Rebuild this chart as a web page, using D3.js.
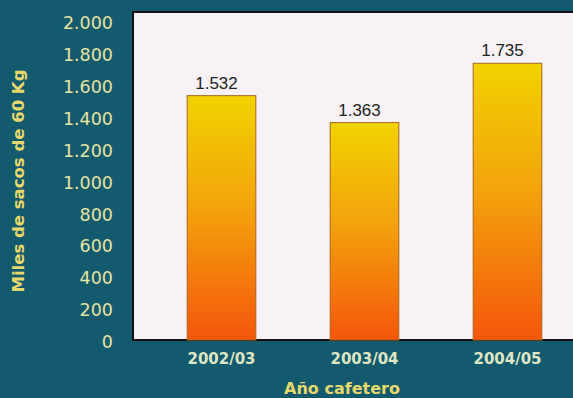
<!DOCTYPE html>
<html>
<head>
<meta charset="utf-8">
<script src="https://cdn.jsdelivr.net/npm/d3@7"></script>
<style>
  html, body { margin: 0; padding: 0; background: #135a6e; }
  svg { display: block; }
</style>
</head>
<body>
<svg id="chart"></svg>
<script>
var years = ["2002/03", "2003/04", "2004/05"];
var sacks = [1532, 1363, 1735];
var yTicks = [0, 200, 400, 600, 800, 1000, 1200, 1400, 1600, 1800, 2000];

var totalWidth = 573;
var totalHeight = 398;

var plot = { left: 133, top: 12, right: 580, bottom: 340 };

var es = d3.formatLocale({ decimal: ",", thousands: ".", grouping: [3], currency: ["", ""] });
var fmt = es.format(",d");

var svg = d3.select("#chart")
    .attr("width", totalWidth)
    .attr("height", totalHeight);

svg.append("rect")
    .attr("width", totalWidth)
    .attr("height", totalHeight)
    .attr("fill", "#135a6e");

var defs = svg.append("defs");
var grad = defs.append("linearGradient")
    .attr("id", "barGrad")
    .attr("x1", 0).attr("y1", 0).attr("x2", 0).attr("y2", 1);
grad.append("stop").attr("offset", "0%").attr("stop-color", "#f1d200");
grad.append("stop").attr("offset", "45%").attr("stop-color", "#f3a40c");
grad.append("stop").attr("offset", "100%").attr("stop-color", "#f5560c");

// plot area
svg.append("rect")
    .attr("x", plot.left)
    .attr("y", plot.top)
    .attr("width", plot.right - plot.left)
    .attr("height", plot.bottom - plot.top)
    .attr("fill", "#f8f2f6")
    .attr("stroke", "#111")
    .attr("stroke-width", 2);

var x = d3.scaleBand()
    .domain(years)
    .range([150, 579])
    .paddingInner(0.52)
    .paddingOuter(0.26);

var y = d3.scaleLinear()
    .domain([0, 2000])
    .range([plot.bottom, 21]);

svg.selectAll(".bar")
    .data(sacks)
    .enter()
    .append("rect")
    .attr("class", "bar")
    .attr("x", function (d, i) { return x(years[i]); })
    .attr("y", function (d) { return y(d); })
    .attr("width", x.bandwidth())
    .attr("height", function (d) { return plot.bottom - y(d); })
    .attr("fill", "url(#barGrad)")
    .attr("stroke", "#a4681c")
    .attr("stroke-width", 1);

svg.selectAll(".val")
    .data(sacks)
    .enter()
    .append("text")
    .attr("class", "val")
    .attr("x", function (d, i) { return x(years[i]) + x.bandwidth() / 2 - 5; })
    .attr("y", function (d) { return y(d) - 7; })
    .attr("text-anchor", "middle")
    .attr("font-family", "Liberation Sans, Arial, sans-serif")
    .attr("font-size", 17)
    .attr("fill", "#222")
    .text(function (d) { return fmt(d); });

// y axis labels
var gy = svg.append("g")
    .attr("transform", "translate(" + plot.left + ",2)")
    .call(d3.axisLeft(y).tickValues(yTicks).tickSize(0).tickPadding(20).tickFormat(fmt));
gy.select(".domain").remove();
gy.selectAll("text")
    .attr("font-family", "DejaVu Sans, sans-serif")
    .attr("font-size", 17.5)
    .attr("fill", "#e6e2a2");

// x axis labels
var gx = svg.append("g")
    .attr("transform", "translate(0," + plot.bottom + ")")
    .call(d3.axisBottom(x).tickSize(0).tickPadding(13));
gx.select(".domain").remove();
gx.selectAll("text")
    .attr("font-family", "DejaVu Sans, sans-serif")
    .attr("font-weight", "bold")
    .attr("font-size", 15)
    .attr("fill", "#dfe6c4");

svg.append("text")
    .attr("x", 342)
    .attr("y", 394)
    .attr("text-anchor", "middle")
    .attr("font-family", "DejaVu Sans, sans-serif")
    .attr("font-weight", "bold")
    .attr("font-size", 16)
    .attr("fill", "#e6d86a")
    .text("Año cafetero");

svg.append("text")
    .attr("transform", "translate(24,181) rotate(-90)")
    .attr("text-anchor", "middle")
    .attr("font-family", "DejaVu Sans, sans-serif")
    .attr("font-weight", "bold")
    .attr("font-size", 16.5)
    .attr("fill", "#e6d86a")
    .text("Miles de sacos de 60 Kg");
</script>
</body>
</html>
